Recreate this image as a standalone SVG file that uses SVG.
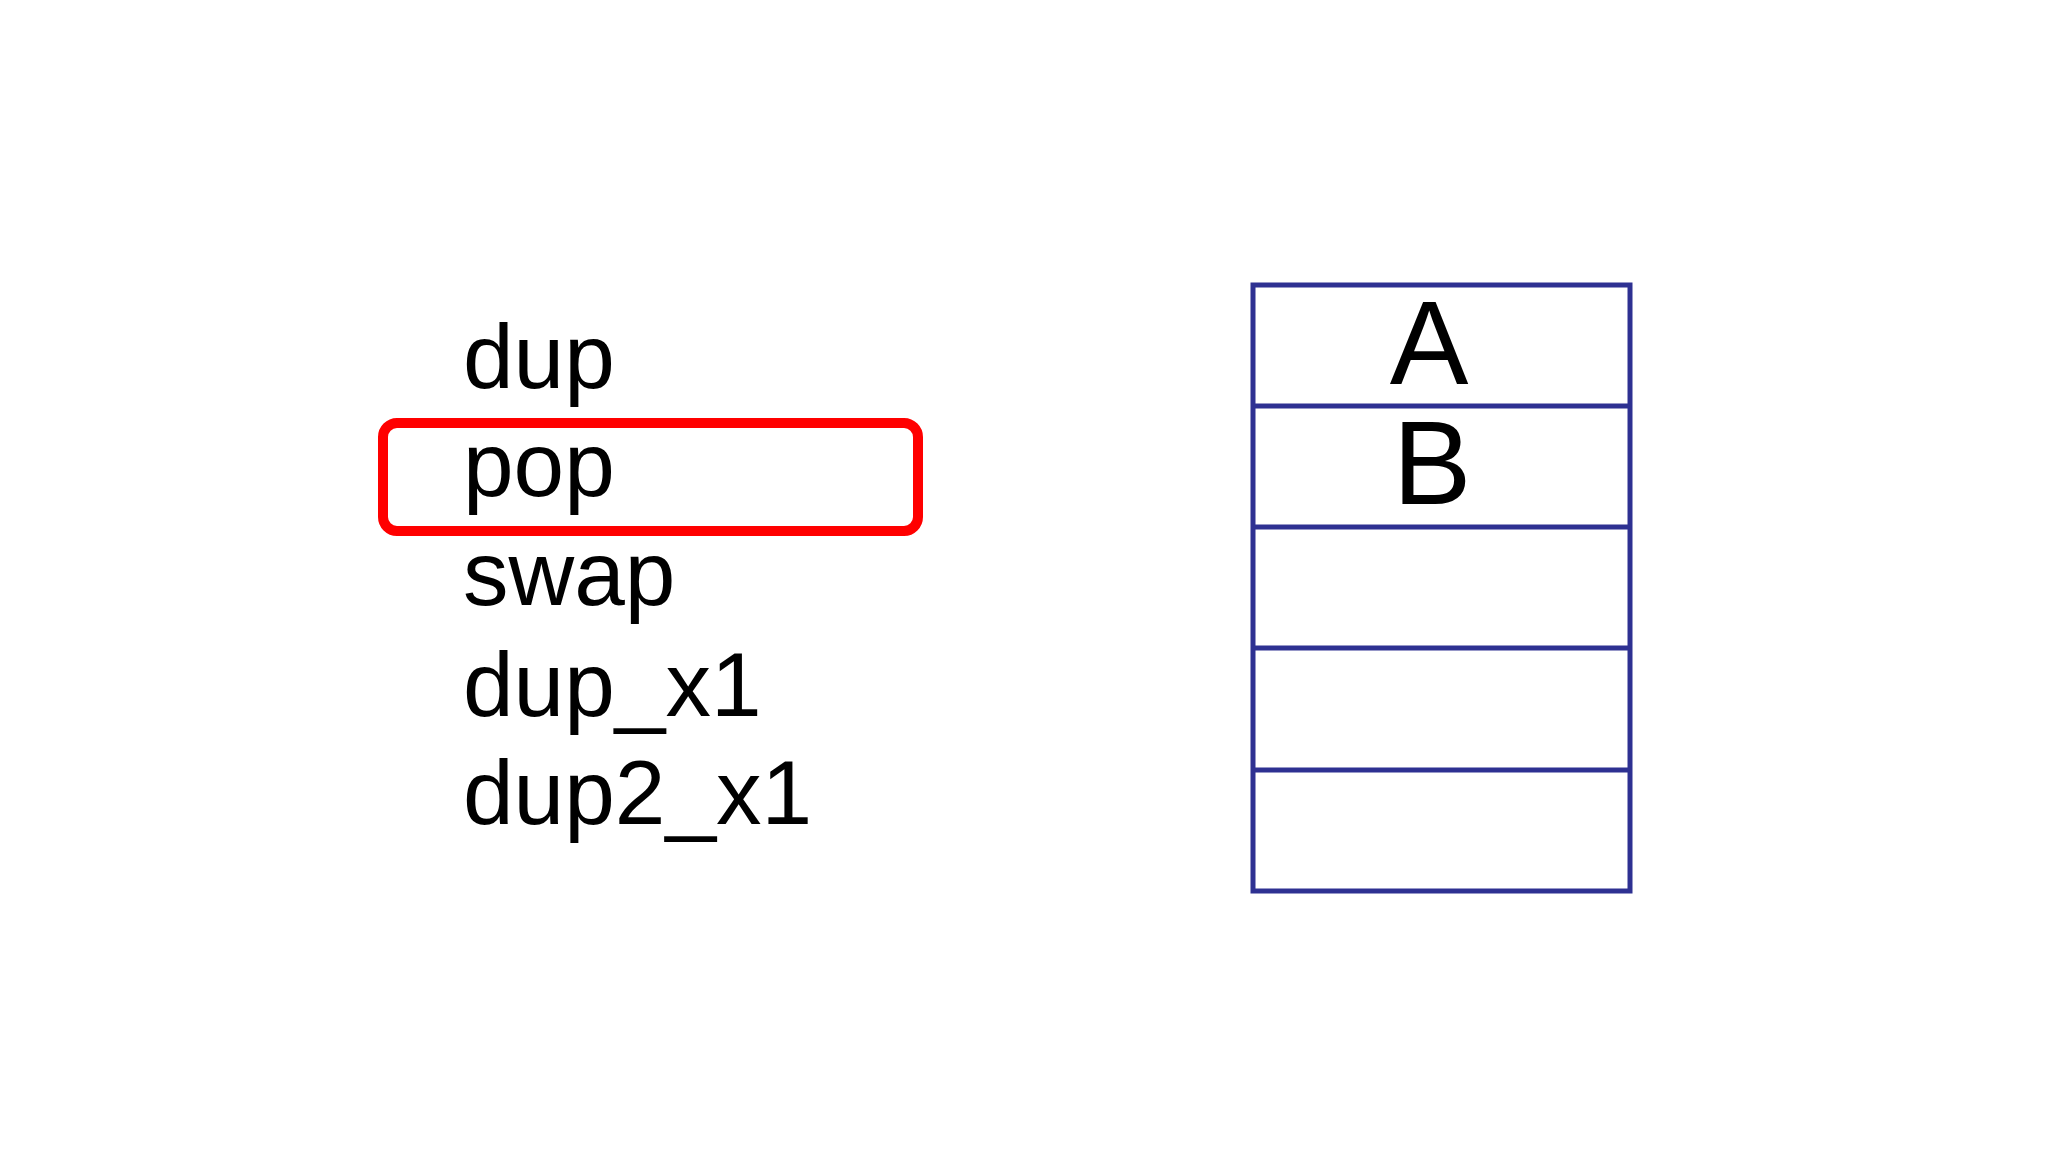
<svg xmlns="http://www.w3.org/2000/svg" width="2048" height="1152" viewBox="0 0 2048 1152">
<style>
.t{font-family:"Liberation Sans",Arial,sans-serif;font-size:91px;fill:#000}
.c{font-family:"Liberation Sans",Arial,sans-serif;font-size:118px;fill:#000;text-anchor:middle}
.s{fill:none;stroke:#2e3192;stroke-width:5}
</style>
<rect width="2048" height="1152" fill="#fff"/>
<g id="ops">
<text class="t" x="463" y="388">dup</text>
<text class="t" x="463" y="496">pop</text>
<text class="t" x="463" y="605">swap</text>
<text class="t" x="463" y="716">dup_x1</text>
<text class="t" x="463" y="824">dup2_x1</text>
</g>
<g id="highlight">
<rect x="383" y="423" width="535" height="108" rx="14" fill="none" stroke="#ff0000" stroke-width="10"/>
</g>
<g id="stack">
<rect class="s" x="1253" y="285" width="377" height="606"/>
<line class="s" x1="1253" y1="406" x2="1630" y2="406"/>
<line class="s" x1="1253" y1="527" x2="1630" y2="527"/>
<line class="s" x1="1253" y1="648" x2="1630" y2="648"/>
<line class="s" x1="1253" y1="770" x2="1630" y2="770"/>
<text class="c" x="1429" y="384">A</text>
<text class="c" x="1432" y="504">B</text>
</g>
<g id="connectors"/>
</svg>
